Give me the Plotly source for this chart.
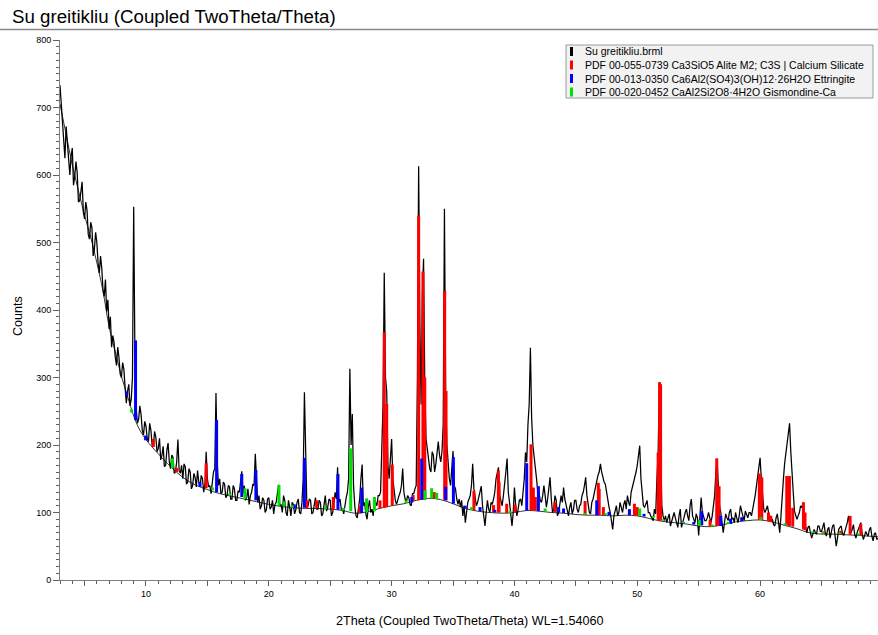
import plotly.graph_objects as go

# ---------------- data ----------------
scan_start = 3.0      # 2Theta of first measured point
scan_step = 0.1       # step of the (resampled) scan

counts = [
    733, 705, 690, 660, 625, 672, 648, 610, 600, 628,   # 3
    640, 585, 598, 620, 603, 560, 562, 575, 590, 545,   # 4
    535, 560, 548, 512, 505, 530, 522, 480, 490, 515,   # 5
    500, 470, 455, 480, 462, 430, 420, 445, 398, 415,   # 6
    372, 390, 345, 362, 352, 330, 318, 345, 330, 305,   # 7
    300, 322, 312, 285, 262, 280, 290, 258, 268, 300,   # 8
    553, 330, 255, 232, 238, 258, 245, 222, 215, 235,   # 9
    228, 210, 205, 232, 222, 200, 198, 220, 212, 190,   # 10
    195, 210, 178, 185, 198, 168, 170, 192, 203, 175,   # 11
    165, 185, 182, 158, 160, 175, 208, 162, 158, 170,   # 12
    150, 172, 168, 142, 145, 165, 160, 135, 140, 158,   # 13
    152, 138, 162, 145, 138, 155, 150, 130, 142, 190,   # 14
    150, 138, 140, 128, 150, 160, 165, 277, 175, 140,   # 15
    150, 128, 130, 145, 142, 122, 125, 140, 138, 120,   # 16
    120, 140, 135, 118, 118, 132, 130, 145, 161, 128,   # 17
    140, 118, 122, 135, 112, 125, 130, 142, 140, 187,   # 18
    150, 115, 125, 105, 110, 122, 118, 100, 104, 120,   # 19
    122, 105, 108, 118, 98, 112, 115, 125, 141, 110,    # 20
    112, 100, 125, 118, 100, 95, 118, 108, 95, 115,     # 21
    112, 98, 104, 115, 120, 100, 98, 115, 150, 278,     # 22
    160, 110, 110, 120, 118, 98, 100, 115, 122, 105,    # 23
    105, 118, 115, 95, 98, 112, 125, 102, 108, 120,     # 24
    118, 95, 100, 112, 130, 120, 167, 115, 120, 105,    # 25
    105, 98, 115, 122, 130, 150, 313, 200, 246, 140,    # 26
    110, 95, 92, 105, 120, 150, 171, 110, 115, 98,      # 27
    90, 108, 118, 100, 105, 95, 122, 115, 110, 125,     # 28
    125, 130, 180, 260, 455, 300, 280, 170, 150, 175,   # 29
    209, 150, 130, 118, 112, 120, 125, 130, 140, 165,   # 30
    130, 120, 115, 125, 122, 112, 110, 128, 128, 135,   # 31
    140, 300, 613, 380, 260, 420, 476, 290, 210, 195,   # 32
    180, 165, 160, 190, 185, 160, 172, 195, 205, 185,   # 33
    175, 190, 230, 550, 280, 200, 165, 150, 140, 160,   # 34
    191, 140, 135, 120, 112, 120, 108, 118, 95, 110,    # 35
    85, 100, 115, 120, 125, 140, 172, 135, 120, 110,    # 36
    115, 125, 130, 139, 110, 95, 80, 100, 118, 105,     # 37
    100, 115, 112, 120, 130, 150, 160, 167, 125, 115,   # 38
    110, 125, 140, 160, 180, 130, 115, 95, 80, 100,     # 39
    137, 110, 95, 105, 118, 120, 110, 130, 150, 189,    # 40
    175, 230, 260, 344, 240, 200, 185, 167, 150, 130,   # 41
    130, 118, 115, 125, 140, 125, 108, 120, 135, 152,   # 42
    120, 100, 105, 125, 118, 95, 100, 112, 125, 115,    # 43
    137, 120, 112, 100, 95, 108, 115, 98, 104, 118,     # 44
    118, 105, 100, 110, 112, 125, 130, 140, 152, 125,   # 45
    110, 100, 98, 115, 120, 130, 140, 150, 155, 160,    # 46
    172, 160, 150, 145, 142, 130, 115, 108, 100, 90,    # 47
    75, 95, 105, 110, 95, 100, 115, 108, 100, 112,      # 48
    118, 105, 125, 115, 110, 130, 137, 145, 150, 160,   # 49
    170, 185, 199, 150, 125, 110, 108, 112, 118, 100,   # 50
    100, 95, 92, 88, 105, 98, 150, 190, 293, 200,       # 51
    110, 95, 88, 95, 85, 92, 98, 80, 88, 95,            # 52
    100, 92, 85, 78, 95, 105, 78, 88, 92, 100,          # 53
    105, 95, 88, 110, 120, 95, 90, 85, 98, 92,          # 54
    66, 105, 122, 100, 95, 88, 88, 92, 100, 90,         # 55
    85, 95, 110, 125, 160, 180, 140, 110, 100, 88,      # 56
    70, 85, 98, 92, 88, 100, 105, 90, 92, 85,           # 57
    100, 92, 85, 95, 110, 102, 95, 88, 102, 95,         # 58
    92, 100, 100, 95, 108, 115, 125, 140, 160, 170,     # 59
    181, 150, 120, 105, 100, 107, 110, 98, 95, 88,      # 60
    90, 82, 80, 92, 98, 85, 70, 95, 133, 150,           # 61
    173, 190, 207, 215, 232, 190, 167, 130, 102, 95,    # 62
    90, 95, 100, 110, 107, 115, 85, 80, 70, 78,         # 63
    80, 70, 62, 68, 75, 70, 68, 80, 80, 72,             # 64
    72, 78, 85, 70, 65, 75, 78, 62, 70, 80,             # 65
    82, 68, 50, 62, 75, 78, 80, 70, 66, 72,             # 66
    78, 85, 95, 80, 70, 75, 82, 68, 62, 70,             # 67
    75, 80, 85, 70, 60, 65, 72, 68, 65, 75,             # 68
    78, 65, 58, 68, 70, 60, 62,                         # 69
]

bg_2theta = [3.0, 3.5, 4.0, 4.5, 5.0, 5.5, 6.0, 6.5, 7.0, 7.5, 8.0, 8.5, 9.0, 9.5,
             10.0, 10.5, 11.0, 12.0, 13.0, 14.0, 15.0, 16.0, 17.0, 18.0, 19.0, 20.0,
             21.0, 22.0, 23.0, 24.0, 25.0, 26.0, 27.0, 28.0, 29.0, 30.0, 31.0, 32.0,
             33.0, 34.0, 35.0, 36.0, 37.0, 38.0, 39.0, 40.0, 41.0, 42.0, 43.0, 44.0,
             45.0, 46.0, 47.0, 48.0, 49.0, 50.0, 51.0, 52.0, 53.0, 54.0, 55.0, 56.0,
             57.0, 58.0, 59.0, 60.0, 61.0, 62.0, 63.0, 64.0, 65.0, 66.0, 67.0, 68.0, 69.6]
bg_counts = [705, 660, 615, 577, 540, 508, 470, 428, 375, 338, 302, 272, 243, 222,
             208, 197, 187, 168, 152, 141, 134, 128, 124, 120, 116, 112,
             109, 107, 106, 106, 105, 103, 99, 101, 106, 110, 113, 118,
             121, 119, 113, 106, 102, 100, 99, 100, 103, 102, 100, 99,
             97, 96, 96, 95, 96, 95, 91, 87, 85, 83, 80, 79,
             82, 86, 88, 89, 86, 81, 76, 70, 68, 68, 67, 66, 64]

# PDF 00-055-0739 Ca3SiO5 (red sticks): position, bottom, top
c3s_pos = [10.6, 12.5, 14.9, 23.1, 23.9, 25.25, 27.4, 29.05, 29.4, 29.6, 30.05, 31.75,
           32.2, 32.55, 32.7, 33.35, 33.5, 34.32, 34.43, 36.7, 38.3, 38.69, 38.75, 39.37,
           40.05, 41.35, 41.54, 41.7, 43.3, 45.75, 46.83, 46.9, 47.24, 49.77, 50.0,
           51.7, 51.82, 51.9, 55.93, 56.47, 56.66, 59.94, 60.14, 60.68, 60.87,
           62.17, 62.39, 62.66, 63.53, 63.66, 65.15, 66.57, 67.33, 68.2]
c3s_base = [197, 160, 136, 106, 106, 104, 99, 106, 107, 108, 110, 117,
            118, 119, 119, 121, 121, 119, 118, 103, 100, 100, 100, 99,
            100, 103, 103, 103, 100, 96, 96, 96, 96, 96, 95,
            89, 88, 88, 79, 80, 80, 89, 89, 87, 86,
            81, 80, 79, 75, 74, 68, 68, 67, 66]
c3s_top = [209, 166, 173, 118, 118, 123, 110, 118, 367, 261, 171, 126,
           540, 457, 300, 130, 130, 428, 280, 132, 111, 162, 145, 113,
           112, 201, 137, 123, 115, 117, 144, 135, 108, 113, 108,
           189, 293, 290, 89, 180, 139, 158, 152, 100, 95,
           154, 154, 107, 115, 100, 72, 73, 95, 83]

# PDF 00-013-0350 Ettringite (blue sticks)
ett_pos = [8.43, 9.15, 9.97, 14.4, 15.75, 17.8, 18.95, 22.08, 22.9, 25.63, 27.56, 31.64,
           32.45, 34.4, 35.03, 35.98, 37.2, 38.4, 41.0, 41.95, 43.6, 44.0, 46.7, 47.7,
           49.36, 50.55, 53.75, 54.6, 55.25, 56.8, 57.6, 58.5]
ett_base = [274, 237, 207, 138, 130, 123, 118, 106, 107, 104, 99, 115,
            119, 118, 113, 106, 102, 100, 103, 102, 100, 99, 96, 96,
            96, 94, 84, 82, 81, 80, 83, 87]
ett_top = [279, 355, 214, 145, 237, 157, 163, 112, 181, 157, 137, 123,
           180, 138, 182, 110, 108, 104, 173, 139, 108, 106, 118, 101,
           105, 98, 86, 86, 102, 95, 91, 93]

# PDF 00-020-0452 Gismondine-Ca (green sticks)
gis_pos = [8.83, 12.15, 15.43, 16.8, 18.06, 20.83, 21.24, 21.9, 24.6, 26.07, 26.67, 27.97,
           28.6, 31.17, 32.72, 33.26, 33.67, 36.52, 39.64, 42.5, 45.75, 47.4, 50.2, 51.3,
           52.1, 53.75, 55.05, 56.1, 57.4, 60.06, 62.04, 64.3, 65.1, 66.5, 68.0]
gis_base = [248, 166, 133, 125, 120, 110, 109, 107, 105, 103, 102, 100,
            102, 114, 119, 121, 120, 104, 99, 102, 96, 96, 95, 92,
            88, 84, 80, 79, 83, 89, 81, 70, 68, 68, 66]
gis_top = [253, 180, 137, 128, 136, 141, 116, 111, 109, 107, 195, 121,
           123, 118, 133, 136, 129, 108, 102, 106, 99, 99, 106, 95,
           90, 86, 89, 82, 86, 93, 84, 72, 71, 70, 69]

series_names = ["Su greitikliu.brml",
                "PDF 00-055-0739 Ca3SiO5 Alite M2; C3S | Calcium Silicate",
                "PDF 00-013-0350 Ca6Al2(SO4)3(OH)12·26H2O Ettringite",
                "PDF 00-020-0452 CaAl2Si2O8·4H2O Gismondine-Ca"]
series_colors = ["#000000", "#ff0000", "#0000ff", "#00e000"]

x_tick_vals = [5, 10, 15, 20, 25, 30, 35, 40, 45, 50, 55, 60, 65]
x_tick_text = ["", "10", "", "20", "", "30", "", "40", "", "50", "", "60", ""]
y_tick_vals = [0, 100, 200, 300, 400, 500, 600, 700, 800]

# ---------------- figure ----------------
FONT = "Liberation Sans, Arial, sans-serif"
two_theta = [round(scan_start + i * scan_step, 2) for i in range(len(counts))]


def sticks(pos, base, top):
    xs, ys = [], []
    for p, b, t in zip(pos, base, top):
        xs += [p, p, None]
        ys += [b, t, None]
    return xs, ys


fig = go.Figure()
fig.add_trace(go.Scatter(x=two_theta, y=counts, mode="lines", name=series_names[0],
                         line=dict(color="#000000", width=1.25), showlegend=False))
fig.add_trace(go.Scatter(x=bg_2theta, y=bg_counts, mode="lines", name="Background",
                         line=dict(color="#000000", width=0.8, shape="spline"),
                         showlegend=False))
for (p, b, t), name, col in zip([(c3s_pos, c3s_base, c3s_top),
                                 (ett_pos, ett_base, ett_top),
                                 (gis_pos, gis_base, gis_top)],
                                series_names[1:], series_colors[1:]):
    xs, ys = sticks(p, b, t)
    fig.add_trace(go.Scatter(x=xs, y=ys, mode="lines", name=name,
                             line=dict(color=col, width=3), showlegend=False))

# plot area in pixels: x 60..878, y 40..580
L, R, T, B = 60, 0, 40, 55
W, H = 878, 635
pw, ph = W - L - R, H - T - B


def px(xp):
    return (xp - L) / pw


def py(yp):
    return (H - B - yp) / ph


shapes = []
annotations = []
# grey rule under title
shapes.append(dict(type="line", xref="paper", yref="paper", x0=px(0), x1=px(878),
                   y0=py(29.5), y1=py(29.5), line=dict(color="#8a8a8a", width=1.5)))
# legend box
shapes.append(dict(type="rect", xref="paper", yref="paper", x0=px(566), x1=px(873),
                   y0=py(98), y1=py(45), line=dict(color="#9a9a9a", width=1),
                   fillcolor="#f2f2f2", layer="above"))
row_y = [51.5, 65, 78.5, 92]
for name, col, ry in zip(series_names, series_colors, row_y):
    shapes.append(dict(type="line", xref="paper", yref="paper", x0=px(571.5), x1=px(571.5),
                       y0=py(ry + 4.5), y1=py(ry - 4.5), line=dict(color=col, width=3),
                       layer="above"))
    annotations.append(dict(text=name, xref="paper", yref="paper", x=px(583), y=py(ry),
                            xanchor="left", yanchor="middle", showarrow=False,
                            font=dict(family=FONT, size=10.5, color="#000000")))

annotations.append(dict(text="2Theta (Coupled TwoTheta/Theta) WL=1.54060", xref="paper",
                        yref="paper", x=px(470), y=py(621), xanchor="center",
                        yanchor="middle", showarrow=False,
                        font=dict(family=FONT, size=12.6, color="#000000")))
annotations.append(dict(text="Counts", xref="paper", yref="paper", x=px(18), y=py(316),
                        xanchor="center", yanchor="middle", showarrow=False, textangle=-90,
                        font=dict(family=FONT, size=12.6, color="#000000")))

fig.update_layout(
    width=W, height=H,
    margin=dict(l=L, r=R, t=T, b=B, pad=0),
    paper_bgcolor="white", plot_bgcolor="white",
    title=dict(text="Su greitikliu (Coupled TwoTheta/Theta)", x=12 / W, xanchor="left",
               xref="container", yref="container", y=1 - 16.8 / H, yanchor="middle",
               font=dict(family=FONT, size=18.7, color="#000000")),
    showlegend=False,
    shapes=shapes,
    annotations=annotations,
    xaxis=dict(range=[3, 69.6], showgrid=False, zeroline=False, showline=True,
               linecolor="#808080", linewidth=1, ticks="outside", ticklen=5,
               tickcolor="#606060", tickvals=x_tick_vals, ticktext=x_tick_text,
               tickfont=dict(family=FONT, size=9, color="#000000"),
               minor=dict(tick0=0, dtick=1, ticks="outside", ticklen=3,
                          tickcolor="#606060", showgrid=False)),
    yaxis=dict(range=[0, 800], showgrid=False, zeroline=False, showline=True,
               linecolor="#808080", linewidth=1, ticks="outside", ticklen=6,
               tickcolor="#606060", tickvals=y_tick_vals,
               tickfont=dict(family=FONT, size=9, color="#000000"),
               minor=dict(tick0=0, dtick=10, ticks="outside", ticklen=3,
                          tickcolor="#606060", showgrid=False)),
)

fig.write_html("out.html")
